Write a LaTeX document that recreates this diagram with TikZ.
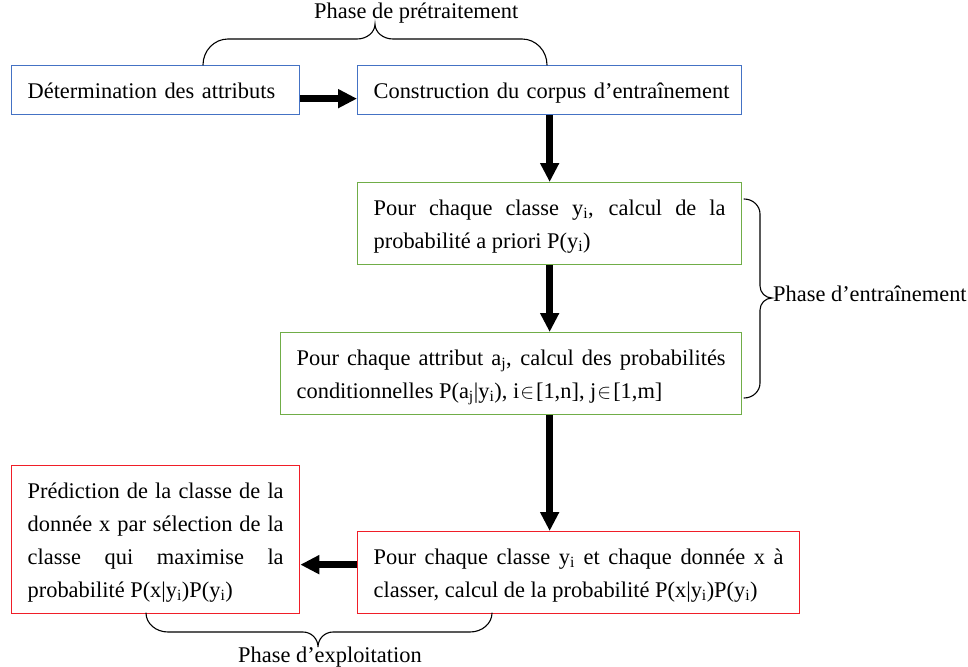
\documentclass[tikz,border=0pt]{standalone}
\usepackage{fontspec}
\setmainfont{Liberation Serif}
\usetikzlibrary{arrows.meta}
\definecolor{boxblue}{RGB}{68,114,196}
\definecolor{boxgreen}{RGB}{112,173,71}
\definecolor{boxred}{RGB}{240,30,40}

\begin{document}
\begin{tikzpicture}[x=1pt,y=-1pt,
  font=\fontsize{22.4}{33}\selectfont,
  stepbox/.style={draw, line width=1.3pt, anchor=north west, inner xsep=16pt,
    inner ysep=0pt, text height=33pt},
  oneline/.style={stepbox, text depth=16pt, align=left},
  twolines/.style={stepbox, text depth=49pt, align=justify},
  fourlines/.style={stepbox, text depth=115pt, align=justify},
  flow/.style={line width=6.5pt, -{Triangle[length=19pt,width=18pt]}},
  brace/.style={line width=1.1pt, line cap=round},
  lbl/.style={inner sep=0pt, anchor=base west}
]
\useasboundingbox (0,0) rectangle (968,666);
\fill[white] (0,0) rectangle (968,666);

% preprocessing boxes
\node[oneline, draw=boxblue, text width=256pt] (attr) at (11,65)
  {\mbox{Détermination des attributs}};
\node[oneline, draw=boxblue, text width=352pt] (corpus) at (357,65)
  {\mbox{Construction du corpus d’entraînement}};

% training boxes
\node[twolines, draw=boxgreen, text width=352pt] (prior) at (357,182)
  {Pour chaque classe y\textsubscript{i}, calcul de la\linebreak
   probabilité a priori P(y\textsubscript{i})};
\node[twolines, draw=boxgreen, text width=429pt] (cond) at (280,332)
  {Pour chaque attribut a\textsubscript{j}, calcul des probabilités\linebreak
   conditionnelles P(a\textsubscript{j}|y\textsubscript{i}), i\kern1pt$\in$\kern2pt[1,n], j\kern1pt$\in$\kern2pt[1,m]};

% exploitation boxes
\node[twolines, draw=boxred, text width=410pt] (score) at (357,531)
  {Pour chaque classe y\textsubscript{i} et chaque donnée x à\linebreak
   classer, calcul de la probabilité P(x|y\textsubscript{i})P(y\textsubscript{i})};
\node[fourlines, draw=boxred, text width=256pt] (predict) at (11,465)
  {Prédiction de la classe de la\linebreak
   donnée x par sélection de la\linebreak
   classe qui maximise la\linebreak
   probabilité P(x|y\textsubscript{i})P(y\textsubscript{i})};

% flow arrows
\draw[flow] (attr.base east) -- (corpus.base west);
\draw[flow] (corpus.south) -- (prior.north);
\draw[flow] (prior.south) -- (prior.south |- cond.north);
\draw[flow] (prior.south |- cond.south) -- (prior.south |- score.north);
\draw[flow] (score.base west) -- (score.base west -| predict.east);

% phase braces
\draw[brace] (203,65) .. controls (203,50.6) and (214.2,39) .. (228,39)
  -- (357,39) .. controls (366.9,39) and (375,32.3) .. (375,24)
  .. controls (375,32.3) and (383.1,39) .. (393,39)
  -- (522,39) .. controls (535.8,39) and (547,50.6) .. (547,65);
\draw[brace] (744,199) .. controls (752.8,199) and (760,205.7) .. (760,214)
  -- (760,286) .. controls (760,292.6) and (765.4,298) .. (772,298)
  .. controls (765.4,298) and (760,303.4) .. (760,310)
  -- (760,383) .. controls (760,391.3) and (752.8,398) .. (744,398);
\draw[brace] (146,613) .. controls (146,623.5) and (155.9,632) .. (168,632)
  -- (303,632) .. controls (311.3,632) and (318,638.7) .. (318,647)
  .. controls (318,638.7) and (324.7,632) .. (333,632)
  -- (470,632) .. controls (482.1,632) and (492,623.5) .. (492,613);

% phase labels
\node[lbl] (prep) at (314,19) {Phase de prétraitement};
\node[lbl] (train) at (773,301) {Phase d’entraînement};
\node[lbl] (exploit) at (238,662) {Phase d’exploitation};
\end{tikzpicture}
\end{document}
